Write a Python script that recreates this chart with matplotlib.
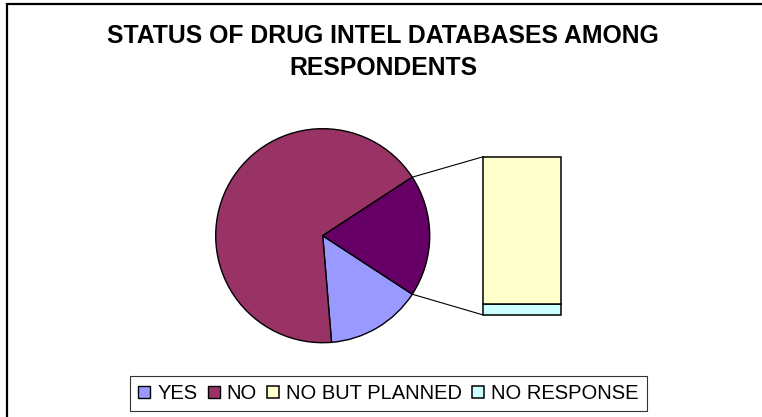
import matplotlib
matplotlib.use("Agg")
import numpy as np
import matplotlib.pyplot as plt
from matplotlib.patches import Rectangle, ConnectionPatch

plt.rcParams['font.family'] = ['Liberation Sans', 'DejaVu Sans']

# survey answers
categorias = ['YES', 'NO', 'NO BUT PLANNED', 'NO RESPONSE']
respostas = [11, 51, 13, 1]
cores = ['#9999FF', '#993366', '#FFFFCC', '#CCFFFF']
cor_outros = '#660066'

titulo = ['STATUS OF DRUG INTEL DATABASES AMONG', 'RESPONDENTS']

W, H = 762, 417
fig = plt.figure(figsize=(W / 100, H / 100), dpi=100)
ax = fig.add_axes([0, 0, 1, 1])

# pie: YES, NO and the rest grouped into one slice centred at 3 o'clock
outros = sum(respostas[2:])
fatias = [respostas[0], respostas[1], outros]
total = sum(fatias)
inicio = -360 * outros / total / 2
centro = (322.7, H - 235.7)
raio = 107
wedges, _ = ax.pie(fatias, colors=[cores[0], cores[1], cor_outros],
                   startangle=inicio, counterclock=False,
                   center=centro, radius=raio, frame=False,
                   wedgeprops=dict(edgecolor='black', linewidth=1.0))
ax.set_xlim(0, W)
ax.set_ylim(0, H)
ax.set_aspect('auto')
ax.axis('off')

# outer border of the chart area
ax.add_patch(Rectangle((6.5, -20), W + 40, H - 4 + 20, fill=False,
                       edgecolor='black', linewidth=1.6, clip_on=False))

ax.text(383, H - 43, titulo[0], ha='center', va='baseline', fontsize=17.8,
        fontweight='bold')
ax.text(383, H - 75, titulo[1], ha='center', va='baseline', fontsize=17.8,
        fontweight='bold')

# breakdown bar for the grouped slice
bx = fig.add_axes([483.3 / W, (H - 315) / H, 77.4 / W, 158.3 / H])
b_nr = bx.bar(0, respostas[3], width=1, color=cores[3],
              edgecolor='black', linewidth=1.1)
b_pl = bx.bar(0, respostas[2], width=1, bottom=respostas[3], color=cores[2],
              edgecolor='black', linewidth=1.1)
bx.set_xlim(-0.5, 0.5)
bx.set_ylim(0, outros)
bx.axis('off')
for p in list(b_nr) + list(b_pl):
    p.set_clip_on(False)

# connector lines from the grouped slice to the bar
w = wedges[2]
for ang, yb in ((w.theta2, outros), (w.theta1, 0)):
    px = centro[0] + raio * np.cos(np.radians(ang))
    py = centro[1] + raio * np.sin(np.radians(ang))
    con = ConnectionPatch(xyA=(px, py), coordsA=ax.transData,
                          xyB=(-0.5, yb), coordsB=bx.transData,
                          color='black', linewidth=0.8)
    fig.add_artist(con)

leg = ax.legend([wedges[0], wedges[1], b_pl[0], b_nr[0]], categorias,
                ncol=4, loc='center', bbox_to_anchor=(388.5, H - 393.5),
                bbox_transform=ax.transData, fontsize=14.5,
                frameon=True, fancybox=False, shadow=False,
                handlelength=0.6, handleheight=0.6, handletextpad=0.35,
                columnspacing=0.5, borderpad=0.4, borderaxespad=0)
leg.get_frame().set_edgecolor('black')
leg.get_frame().set_linewidth(0.8)

fig.savefig('out.png', dpi=100)
